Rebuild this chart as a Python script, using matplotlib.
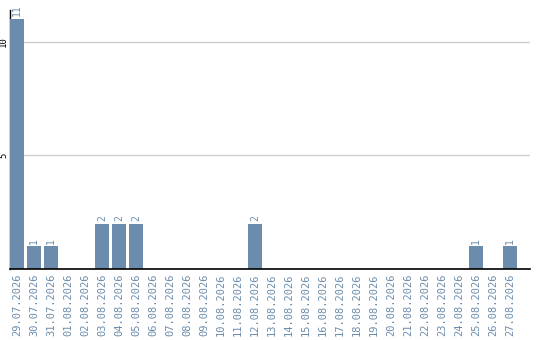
import matplotlib
matplotlib.use("Agg")
import matplotlib.pyplot as plt

dates = ["29.07.2026", "30.07.2026", "31.07.2026", "01.08.2026", "02.08.2026",
         "03.08.2026", "04.08.2026", "05.08.2026", "06.08.2026", "07.08.2026",
         "08.08.2026", "09.08.2026", "10.08.2026", "11.08.2026", "12.08.2026",
         "13.08.2026", "14.08.2026", "15.08.2026", "16.08.2026", "17.08.2026",
         "18.08.2026", "19.08.2026", "20.08.2026", "21.08.2026", "22.08.2026",
         "23.08.2026", "24.08.2026", "25.08.2026", "26.08.2026", "27.08.2026"]
counts = [11, 1, 1, 0, 0, 2, 2, 2, 0, 0, 0, 0, 0, 0, 2,
          0, 0, 0, 0, 0, 0, 0, 0, 0, 0, 0, 0, 1, 0, 1]
y_ticks = [5, 10]

bar_color = "#6b8cac"
label_color = "#6b8cac"

fig = plt.figure(figsize=(5.4, 3.4), dpi=100)
ax = fig.add_axes([10 / 540, 71 / 340, 520 / 540, 259 / 340])

x = list(range(len(dates)))
ax.bar(x, counts, width=0.82, color=bar_color, zorder=3)

for xi, v in zip(x, counts):
    if v > 0:
        ax.text(xi, v + 0.12, str(v), rotation=90, ha="center", va="bottom",
                color=label_color, fontsize=7, family="DejaVu Sans Mono",
                clip_on=False)

ax.set_xlim(-0.41, 30.18)
ax.set_ylim(0, 11.4)

ax.set_xticks(x)
ax.set_xticklabels(dates, rotation=90, color=label_color, fontsize=7.5,
                   family="DejaVu Sans Mono")
ax.tick_params(axis="x", length=0, pad=3)

ax.set_yticks(y_ticks)
ax.set_yticklabels([str(t) for t in y_ticks], rotation=90, va="center",
                   fontsize=6.5, family="DejaVu Sans Mono")
ax.tick_params(axis="y", length=0, pad=1.5)

ax.grid(axis="y", color="#cccccc", linewidth=1, zorder=0)
ax.spines["top"].set_visible(False)
ax.spines["right"].set_visible(False)
ax.spines["left"].set_color("black")
ax.spines["bottom"].set_color("black")
ax.spines["left"].set_linewidth(1)
ax.spines["bottom"].set_linewidth(1.2)
ax.spines["bottom"].set_zorder(4)

fig.savefig("out.png", dpi=100)
